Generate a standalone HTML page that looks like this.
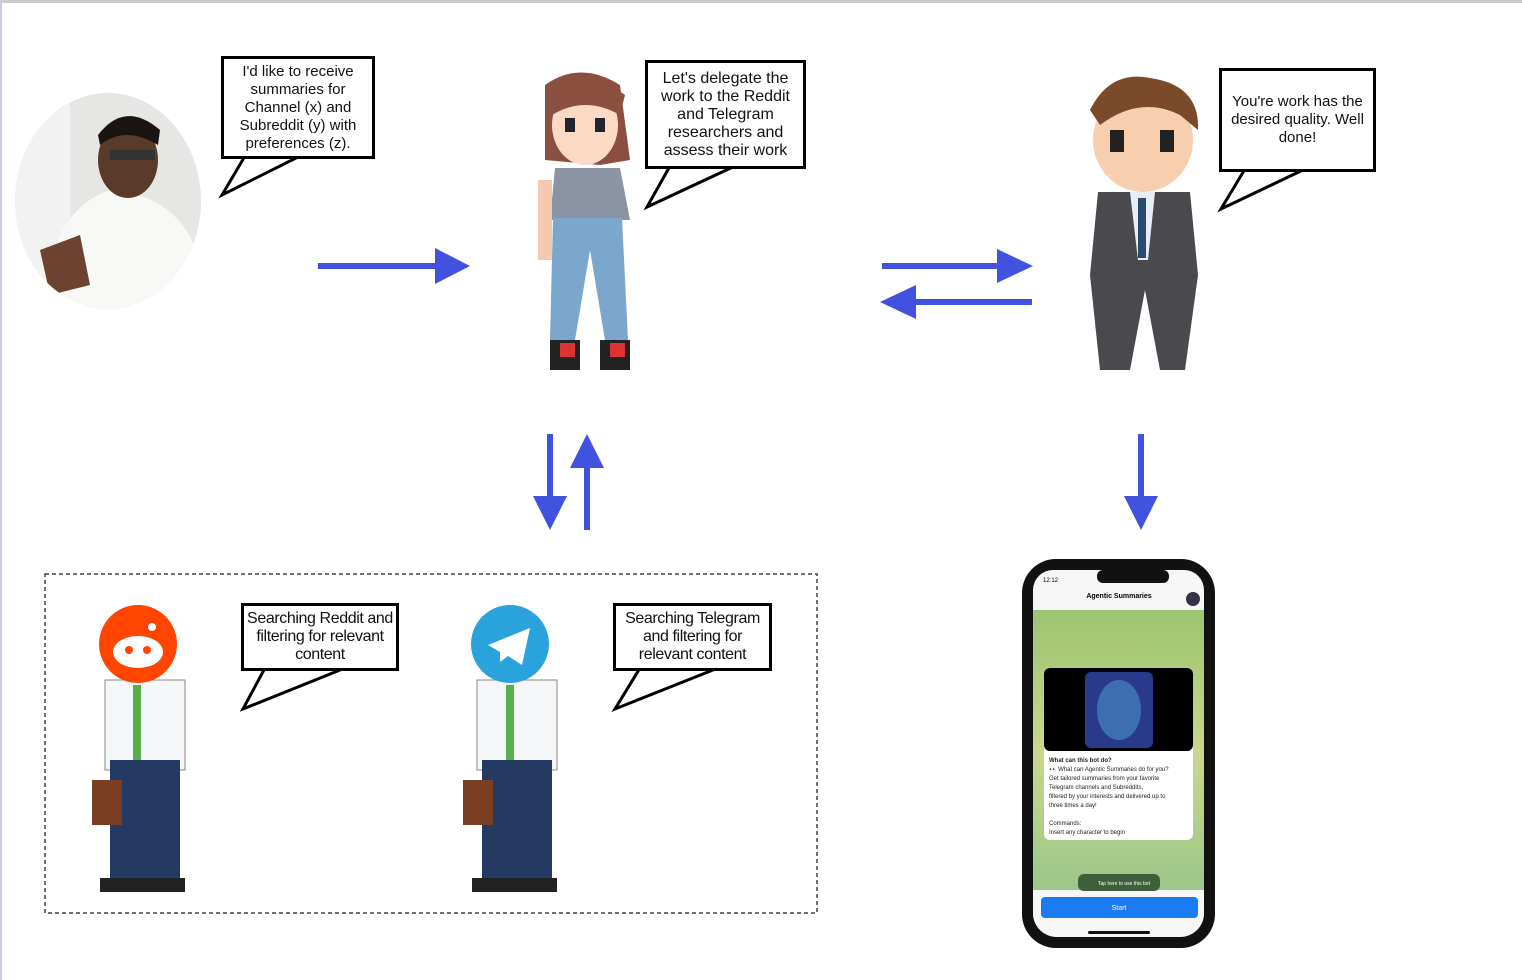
<!DOCTYPE html>
<html><head><meta charset="utf-8"><style>
html,body{margin:0;padding:0;background:#fff;}
body{width:1522px;height:980px;overflow:hidden;position:relative;font-family:"Liberation Sans",sans-serif;}
.b{position:absolute;border:3px solid #000;background:#fff;box-sizing:border-box;text-align:center;font-size:15px;line-height:18px;color:#111;display:flex;align-items:center;justify-content:center;padding:0 1px;}
</style></head><body>
<div style="position:absolute;left:0;top:0;width:1522px;height:3px;background:#ccc"></div>
<div style="position:absolute;left:0;top:0;width:2px;height:980px;background:#ccd"></div>
<svg width="1522" height="980" style="position:absolute;left:0;top:0">
<defs><clipPath id="ph"><ellipse cx="108" cy="201" rx="93" ry="108"/></clipPath>
<linearGradient id="gg" x1="0" y1="0" x2="0" y2="1"><stop offset="0" stop-color="#8fbf6a"/><stop offset="0.5" stop-color="#c9d88a"/><stop offset="1" stop-color="#8cc08a"/></linearGradient></defs>
<g clip-path="url(#ph)">
<rect x="10" y="90" width="200" height="220" fill="#e6e6e4"/>
<rect x="10" y="90" width="60" height="220" fill="#f2f2f2"/>
<path d="M40 310 Q50 210 110 190 Q180 195 200 260 L200 310Z" fill="#f8f8f6"/>
<ellipse cx="128" cy="160" rx="30" ry="38" fill="#5a3a28"/>
<path d="M98 135 Q125 100 160 130 L158 145 Q125 125 100 145Z" fill="#1c1410"/>
<rect x="110" y="150" width="45" height="10" fill="#333"/>
<path d="M40 250 L80 235 L90 285 L50 295Z" fill="#6b4330"/>
</g>
<g fill="#fff" stroke="#000" stroke-width="3">
<path d="M245 156 L222 195 L300 156"/>
<path d="M670 166 L647 207 L735 166"/>
<path d="M1245 169 L1221 209 L1305 169"/>
<path d="M265 668 L243 709 L345 668"/>
<path d="M640 668 L615 709 L718 668"/>
</g>
<g fill="#4152e0" stroke="#4152e0">
<line x1="318" y1="266" x2="440" y2="266" stroke-width="6"/><path d="M435 248 L470 266 L435 284Z" stroke="none"/>
<line x1="882" y1="266" x2="1000" y2="266" stroke-width="6"/><path d="M997 249 L1033 266 L997 283Z" stroke="none"/>
<line x1="910" y1="302" x2="1032" y2="302" stroke-width="6"/><path d="M916 285 L880 302 L916 319Z" stroke="none"/>
<line x1="550" y1="434" x2="550" y2="500" stroke-width="6"/><path d="M533 496 L550 530 L567 496Z" stroke="none"/>
<line x1="587" y1="466" x2="587" y2="530" stroke-width="6"/><path d="M570 468 L587 434 L604 468Z" stroke="none"/>
<line x1="1141" y1="434" x2="1141" y2="500" stroke-width="6"/><path d="M1124 496 L1141 530 L1158 496Z" stroke="none"/>
</g>
<rect x="45" y="574" width="772" height="339" fill="none" stroke="#444" stroke-width="1.5" stroke-dasharray="4,3"/>
<g>
<path d="M545 85 Q580 60 620 85 L630 160 L600 165 L545 160Z" fill="#8a4f3e"/>
<ellipse cx="585" cy="125" rx="33" ry="40" fill="#fcd9c4"/>
<path d="M548 90 Q585 65 625 95 L620 115 Q585 95 552 115Z" fill="#8a4f3e"/>
<rect x="565" y="118" width="10" height="14" fill="#223"/><rect x="595" y="118" width="10" height="14" fill="#223"/>
<path d="M555 168 L620 168 L630 220 L550 220Z" fill="#8a94a5"/>
<path d="M553 218 L622 218 L628 340 L605 340 L590 250 L575 340 L550 340Z" fill="#7ba7cc"/>
<rect x="538" y="180" width="14" height="80" fill="#f5c8b0"/>
<rect x="550" y="340" width="30" height="30" fill="#222"/><rect x="600" y="340" width="30" height="30" fill="#222"/>
<rect x="560" y="343" width="15" height="14" fill="#d33"/><rect x="610" y="343" width="15" height="14" fill="#d33"/>
</g>
<g>
<ellipse cx="1143" cy="140" rx="50" ry="52" fill="#f7cfae"/>
<path d="M1090 110 Q1110 70 1150 78 Q1200 85 1198 130 L1180 115 Q1140 95 1100 125Z" fill="#7a4a2a"/>
<rect x="1110" y="130" width="14" height="22" fill="#222"/><rect x="1160" y="130" width="14" height="22" fill="#222"/>
<path d="M1098 192 L1190 192 L1198 275 L1185 370 L1160 370 L1145 290 L1130 370 L1100 370 L1090 275Z" fill="#4a4a4e"/>
<path d="M1130 192 L1155 192 L1148 260 L1138 260Z" fill="#e8eef5"/>
<rect x="1138" y="198" width="8" height="60" fill="#2a4a70"/>
</g>
<g>
<rect x="105" y="680" width="80" height="90" fill="#f4f6f8" stroke="#888" stroke-width="1"/>
<rect x="133" y="685" width="8" height="80" fill="#55b04a"/>
<rect x="110" y="760" width="70" height="120" fill="#243a63"/>
<rect x="92" y="780" width="30" height="45" fill="#7a3e22"/>
<rect x="100" y="878" width="85" height="14" fill="#222"/>
<circle cx="138" cy="644" r="39" fill="#ff4500"/>
<ellipse cx="138" cy="652" rx="25" ry="16" fill="#fff"/>
<circle cx="129" cy="650" r="4" fill="#ff4500"/><circle cx="147" cy="650" r="4" fill="#ff4500"/>
<circle cx="152" cy="627" r="4" fill="#fff"/>
</g>
<g>
<rect x="477" y="680" width="80" height="90" fill="#f4f6f8" stroke="#888" stroke-width="1"/>
<rect x="506" y="685" width="8" height="80" fill="#55b04a"/>
<rect x="482" y="760" width="70" height="120" fill="#243a63"/>
<rect x="463" y="780" width="30" height="45" fill="#7a3e22"/>
<rect x="472" y="878" width="85" height="14" fill="#222"/>
<circle cx="510" cy="644" r="39" fill="#2aa3dd"/>
<path d="M488 645 L530 628 L522 665 L508 656 L500 662 L500 652Z" fill="#fff"/>
</g>
<rect x="1022" y="559" width="193" height="389" rx="34" fill="#111"/>
<rect x="1033" y="570" width="171" height="367" rx="26" fill="url(#gg)"/>
<rect x="1033" y="570" width="171" height="40" rx="20" fill="#f6f6f6"/>
<rect x="1033" y="590" width="171" height="20" fill="#f6f6f6"/>
<rect x="1033" y="890" width="171" height="47" rx="24" fill="#f6f6f6"/>
<rect x="1033" y="890" width="171" height="20" fill="#f6f6f6"/>
<rect x="1097" y="570" width="72" height="13" rx="6" fill="#111"/>
<text x="1043" y="582" font-size="6" font-family="Liberation Sans">12:12</text>
<text x="1119" y="598" font-size="7" font-weight="bold" text-anchor="middle" font-family="Liberation Sans">Agentic Summaries</text>
<circle cx="1193" cy="599" r="7" fill="#334"/>
<rect x="1044" y="668" width="149" height="172" rx="6" fill="#fff"/>
<rect x="1044" y="668" width="149" height="83" rx="6" fill="#000"/>
<rect x="1085" y="672" width="68" height="76" rx="6" fill="#2a3a8a"/>
<ellipse cx="1119" cy="710" rx="22" ry="30" fill="#3d6fb0"/>
<g font-family="Liberation Sans" font-size="6" fill="#222">
<text x="1049" y="762" font-weight="bold">What can this bot do?</text>
<text x="1049" y="771">👀 What can Agentic Summaries do for you?</text>
<text x="1049" y="780">Get tailored summaries from your favorite</text>
<text x="1049" y="789">Telegram channels and Subreddits,</text>
<text x="1049" y="798">filtered by your interests and delivered up to</text>
<text x="1049" y="807">three times a day!</text>
<text x="1049" y="825">Commands:</text>
<text x="1049" y="834">Insert any character to begin</text>
</g>
<rect x="1078" y="874" width="82" height="17" rx="6" fill="#3f5f3a"/>
<text x="1124" y="885" font-size="5" fill="#fff" text-anchor="middle" font-family="Liberation Sans">Tap here to use this bot</text>
<rect x="1041" y="897" width="157" height="21" rx="4" fill="#1a7cf0"/>
<text x="1119" y="910" font-size="7" fill="#fff" text-anchor="middle" font-family="Liberation Sans">Start</text>
<rect x="1088" y="931" width="62" height="3" rx="1.5" fill="#111"/>
</svg>
<div class="b" style="left:221px;top:56px;width:154px;height:103px">I'd like to receive summaries for Channel (x) and Subreddit (y) with preferences (z).</div>
<div class="b" style="left:645px;top:60px;width:161px;height:109px;font-size:16px">Let's delegate the work to the Reddit and Telegram researchers and assess their work</div>
<div class="b" style="left:1219px;top:68px;width:157px;height:104px;font-size:15px">You're work has the desired quality. Well done!</div>
<div class="b" style="left:241px;top:603px;width:158px;height:68px;font-size:16px;letter-spacing:-0.4px">Searching Reddit and filtering for relevant content</div>
<div class="b" style="left:613px;top:603px;width:159px;height:68px;font-size:16px;letter-spacing:-0.4px">Searching Telegram and filtering for relevant content</div>
</body></html>
